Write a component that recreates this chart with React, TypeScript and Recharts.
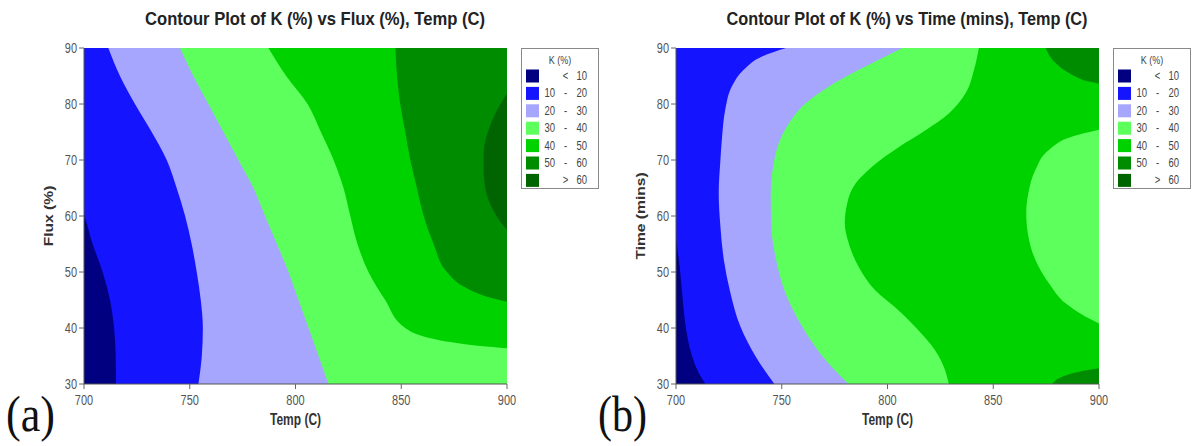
import React from 'react';
import { ComposedChart, Area, XAxis, YAxis, CartesianGrid, Label } from 'recharts';

const bandColors = ['#000080', '#1414ff', '#a6a6ff', '#5cff5c', '#00d200', '#008c00', '#006400'];
const bandLabels = [
  ['', '<', '10'],
  ['10', '-', '20'],
  ['20', '-', '30'],
  ['30', '-', '40'],
  ['40', '-', '50'],
  ['50', '-', '60'],
  ['', '>', '60'],
];
const tempTicks = [700, 750, 800, 850, 900];
const yTicks = [30, 40, 50, 60, 70, 80, 90];

// panel (a): [flux %, temp C] along the left edge of each band
const fluxBlueEdge = [[90, 700], [61, 700], [58, 701.8], [55, 704.1], [50, 708.8], [45, 712.3], [40, 714.2], [35, 715], [30, 715.1]];
const fluxLavenderEdge = [[90, 711.5], [85, 717], [80, 724.1], [75, 732], [70, 739.1], [65, 743.8], [60, 747.8], [55, 750.9], [50, 753.3], [45, 755.2], [40, 756.2], [35, 755.7], [30, 754.1]];
const fluxLightGreenEdge = [[90, 745.4], [85, 751.7], [80, 758.8], [75, 765.9], [70, 773], [65, 780.1], [60, 785.6], [55, 791.2], [50, 796.7], [45, 801.4], [40, 806.2], [35, 810.9], [30, 815.6]];
const fluxGreenEdge = [[90, 787.2], [85, 795.6], [80, 805.7], [75, 812], [70, 818], [65, 822.7], [60, 825.9], [55, 829.3], [50, 834.5], [45, 842.4], [40, 851.9], [38.5, 860.6], [37.5, 873.2], [36.8, 887.4], [36.4, 900]];
const fluxDarkGreenEdge = [[90, 847.2], [85, 848], [80, 849.5], [75, 851.9], [70, 854.3], [65, 857.4], [60, 860.6], [55, 865.3], [50, 871.6], [47.4, 879.5], [45.6, 890.5], [44.7, 900]];
const fluxDarkestEdge = [[81.9, 900], [78.9, 895.3], [75.4, 891.3], [71.2, 889], [68.2, 889], [64, 890.3], [61.1, 893.4], [58.7, 897.4], [57.5, 900]];

// panel (b): [time mins, temp C]
const timeBlueEdge = [[90, 700], [57.5, 700], [50, 702], [45, 703.2], [40, 704.7], [35, 707.6], [32, 710.7], [30, 713.9]];
const timeLavenderEdge = [[90, 752], [88.5, 740.7], [86.1, 732], [83.2, 726.5], [79, 723.3], [74.2, 721.8], [70, 721], [64, 720.2], [58.1, 721], [52.2, 722.6], [46.3, 725.7], [40.3, 730.4], [35, 737.5], [30, 746.5]];
const timeLightGreenEdge = [[90, 807], [88.5, 799], [86.1, 786.4], [83.1, 772.2], [80.1, 761.2], [76.5, 753.3], [73, 748.6], [69.4, 746.2], [64, 744.8], [58.1, 745.1], [52.2, 747.3], [46.3, 751.7], [40.3, 759.6], [35, 769.1], [30, 781.5]];
const timeGreenEdge = [[90, 843.2], [86.1, 840.9], [81.9, 836.9], [78.3, 829], [75.3, 818], [72.3, 805.4], [68.8, 792.7], [65.8, 784.9], [62.2, 780.9], [58.7, 779.8], [55.1, 781.7], [50.9, 786.4], [46.7, 794.3], [43.1, 805.4], [39.5, 814.8], [35.9, 822.7], [33, 826.7], [30, 829]];
const timeLightGreenRight = [[75.4, 900], [74.2, 887.4], [71.8, 876.3], [68.3, 870], [64.1, 866.6], [60.5, 865.6], [56.4, 866.6], [52.1, 870], [48, 876.3], [44.4, 884.2], [42, 893.7], [40.8, 900]];
const timeDarkGreenTop = [[90, 874.8], [87.3, 879.5], [85.2, 887.4], [84, 895.3], [83.6, 900]];
const timeDarkGreenBottom = [[32.8, 900], [32.2, 890.5], [31.3, 882.6], [30, 877.9]];

type Edge = { key: string; color: string; pts: number[][] };

const edgesA: Edge[] = [
  { key: 'blue', color: bandColors[1], pts: fluxBlueEdge },
  { key: 'lavender', color: bandColors[2], pts: fluxLavenderEdge },
  { key: 'lightGreen', color: bandColors[3], pts: fluxLightGreenEdge },
  { key: 'green', color: bandColors[4], pts: fluxGreenEdge },
  { key: 'darkGreen', color: bandColors[5], pts: fluxDarkGreenEdge },
  { key: 'darkest', color: bandColors[6], pts: fluxDarkestEdge },
];

const edgesB: Edge[] = [
  { key: 'blue', color: bandColors[1], pts: timeBlueEdge },
  { key: 'lavender', color: bandColors[2], pts: timeLavenderEdge },
  { key: 'lightGreen', color: bandColors[3], pts: timeLightGreenEdge },
  { key: 'green', color: bandColors[4], pts: timeGreenEdge },
  { key: 'lightGreenRight', color: bandColors[3], pts: timeLightGreenRight },
  { key: 'darkGreenTop', color: bandColors[5], pts: timeDarkGreenTop },
  { key: 'darkGreenBottom', color: bandColors[5], pts: timeDarkGreenBottom },
];

function buildRows(edges: Edge[]) {
  const map = new Map<number, any>();
  edges.forEach((e) =>
    e.pts.forEach(([v, t]) => {
      const row = map.get(v) ?? { v };
      row[e.key] = t;
      map.set(v, row);
    })
  );
  return [...map.values()].sort((a, b) => a.v - b.v);
}

const FONT = 'Liberation Sans, Arial, sans-serif';
const STRETCH = 1.3;

const XTick = ({ x, y, payload }: any) => (
  <g transform={`translate(${x},${y}) scale(1,${STRETCH})`}>
    <text textAnchor="middle" y={11} fontSize={11} fill="#555" fontFamily={FONT}>
      {payload.value}
    </text>
  </g>
);

const YTick = ({ x, y, payload }: any) => (
  <g transform={`translate(${x},${y}) scale(1,${STRETCH})`}>
    <text textAnchor="end" y={4} fontSize={11} fill="#555" fontFamily={FONT}>
      {payload.value}
    </text>
  </g>
);

function LegendBox({ left }: { left: number }) {
  return (
    <g transform={`translate(${left},48)`}>
      <rect x={0.5} y={0.5} width={77} height={140} fill="#fff" stroke="#8a8a8a" />
      <g transform={`translate(39,16) scale(1,${STRETCH})`}>
        <text textAnchor="middle" fontSize={9} fill="#444" fontFamily={FONT}>K (%)</text>
      </g>
      {bandLabels.map((lab, i) => {
        const top = 21.5 + i * 17.4;
        return (
          <g key={i}>
            <rect x={5} y={top} width={13} height={13} fill={bandColors[i]} />
            <g transform={`translate(0,${top + 10.5}) scale(1,${STRETCH})`} fontSize={9.5} fill="#444" fontFamily={FONT}>
              <text x={34} textAnchor="end">{lab[0]}</text>
              <text x={44.5} textAnchor="middle">{lab[1]}</text>
              <text x={66} textAnchor="end">{lab[2]}</text>
            </g>
          </g>
        );
      })}
    </g>
  );
}

function Panel({ left, title, titleLen, letter, yLabel, edges }: any) {
  const rows = buildRows(edges);
  return (
    <div style={{ position: 'absolute', left, top: 0, width: 600, height: 446 }}>
      <ComposedChart
        width={600}
        height={446}
        data={rows}
        layout="vertical"
        margin={{ top: 48, right: 93, bottom: 22, left: 40 }}
      >
        <CartesianGrid horizontal={false} vertical={false} fill={bandColors[0]} fillOpacity={1} />
        {edges.map((e: Edge) => (
          <Area
            key={e.key}
            dataKey={e.key}
            type="monotone"
            baseValue="dataMax"
            connectNulls
            fill={e.color}
            fillOpacity={1}
            stroke="none"
            dot={false}
            activeDot={false}
            isAnimationActive={false}
          />
        ))}
        <XAxis
          type="number"
          domain={[700, 900]}
          ticks={tempTicks}
          allowDataOverflow
          height={40}
          tick={<XTick />}
          tickSize={5}
          tickLine={{ stroke: '#666' }}
          axisLine={{ stroke: '#555' }}
        >
          <Label
            content={({ viewBox }: any) => (
              <g transform={`translate(${viewBox.x + viewBox.width / 2},${viewBox.y + 41}) scale(1,${STRETCH})`}>
                <text textAnchor="middle" fontSize={12} fontWeight="bold" fill="#333" fontFamily={FONT}>Temp (C)</text>
              </g>
            )}
          />
        </XAxis>
        <YAxis
          type="number"
          dataKey="v"
          domain={[30, 90]}
          ticks={yTicks}
          reversed
          allowDataOverflow
          width={44}
          tick={<YTick />}
          tickSize={5}
          tickLine={{ stroke: '#666' }}
          axisLine={{ stroke: '#555' }}
        >
          <Label
            content={({ viewBox }: any) => (
              <g transform={`translate(${viewBox.x + 12.5},${viewBox.y + viewBox.height / 2}) rotate(-90) scale(${STRETCH},1)`}>
                <text textAnchor="middle" fontSize={12} fontWeight="bold" fill="#333" fontFamily={FONT}>{yLabel}</text>
              </g>
            )}
          />
        </YAxis>
        <XAxis xAxisId="frameTop" orientation="top" type="number" domain={[700, 900]} height={0} tick={false} tickLine={false} axisLine={{ stroke: '#555' }} />
        <YAxis yAxisId="frameRight" orientation="right" type="number" domain={[30, 90]} width={0} tick={false} tickLine={false} axisLine={{ stroke: '#555' }} />
      </ComposedChart>
      <svg width={600} height={446} style={{ position: 'absolute', left: 0, top: 0, pointerEvents: 'none' }}>
        <g transform={`translate(315,25) scale(1,${STRETCH})`}>
          <text textAnchor="middle" fontSize={14} fontWeight="bold" fill="#222" fontFamily={FONT} textLength={titleLen} lengthAdjust="spacingAndGlyphs">
            {title}
          </text>
        </g>
        <LegendBox left={521} />
        <g transform={`translate(6,431) scale(1,1.25)`}>
          <text fontSize={40} fill="#111" fontFamily="Liberation Serif, Times New Roman, serif" textLength={49} lengthAdjust="spacingAndGlyphs">
            {letter}
          </text>
        </g>
      </svg>
    </div>
  );
}

export default function App() {
  return (
    <div style={{ position: 'absolute', left: 0, top: 0, width: 1198, height: 446, background: '#fff' }}>
      <Panel left={0} title="Contour Plot of K (%) vs Flux (%), Temp (C)" titleLen={340} letter="(a)" yLabel="Flux (%)" edges={edgesA} />
      <Panel left={592} title="Contour Plot of K (%) vs Time (mins), Temp (C)" titleLen={361} letter="(b)" yLabel="Time (mins)" edges={edgesB} />
    </div>
  );
}
